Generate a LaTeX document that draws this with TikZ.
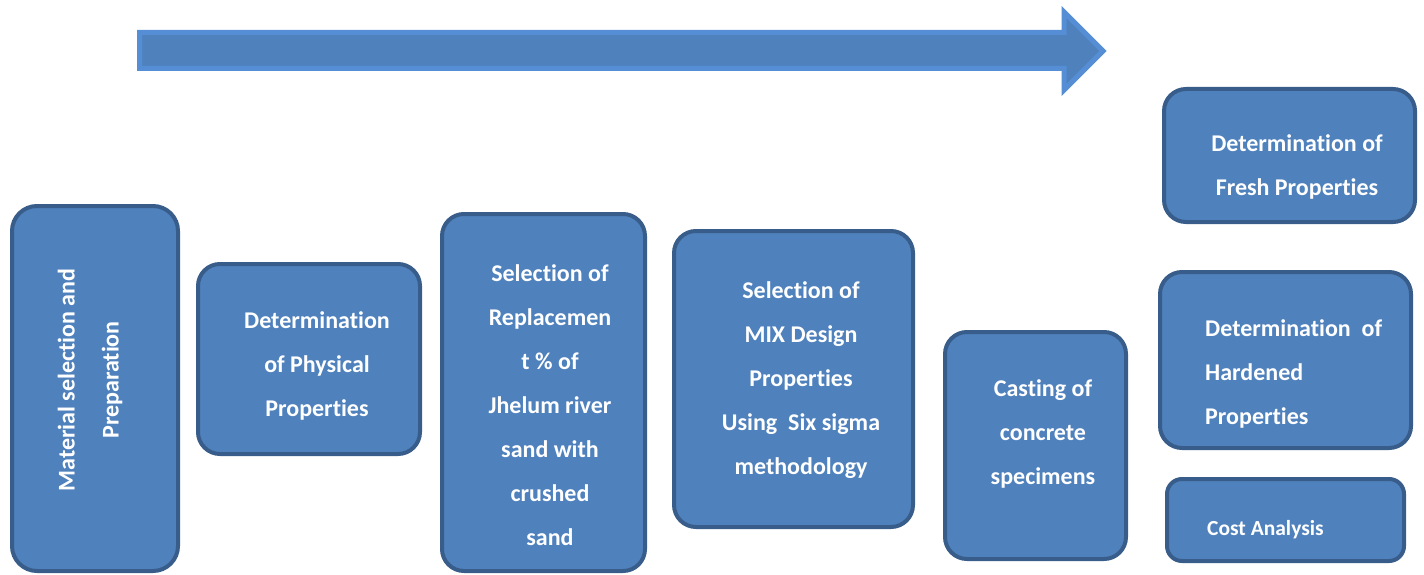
\documentclass[tikz,border=0pt]{standalone}
\usepackage{fontspec}
\setmainfont{Carlito}[Ligatures=NoCommon]
\usepackage{tikz}
\usetikzlibrary{positioning}
\definecolor{boxfill}{RGB}{79,129,189}
\definecolor{boxline}{RGB}{56,93,138}
\definecolor{arrline}{RGB}{85,142,213}

\begin{document}
\begin{tikzpicture}[
  x=1pt, y=-1pt,
  stepbox/.style={draw=boxline, fill=boxfill, line width=4pt, rounded corners=22pt, inner sep=0},
  txt/.style={text=white, font=\fontsize{24}{44}\selectfont\bfseries, align=center, inner sep=0},
  process/.style={draw=arrline, fill=boxfill, line width=5pt, line join=miter}
]
  \useasboundingbox (0,0) rectangle (1424,575);

  % Process arrow
  \draw[process] (139.5,32.5) -- (1064,32.5) -- (1064,12) -- (1103,51)
    -- (1064,90) -- (1064,68.5) -- (139.5,68.5) -- cycle;

  % Material selection
  \node[stepbox, minimum width=166pt, minimum height=365pt, rounded corners=25pt] (mat) at (95,388.5) {};
  \node[txt, rotate=90] (matt) at (90,380) {Material selection and\\Preparation};

  % Physical properties
  \node[stepbox, minimum width=222pt, minimum height=190pt] (phys) at (309,359) {};
  \node[txt] (physt) at (317,366) {Determination\\of Physical\\Properties};

  % Replacement
  \node[stepbox, minimum width=203pt, minimum height=357pt] (repl) at (543.5,392.5) {};
  \node[txt] (replt) at (550,405) {Selection of\\Replacemen\\t \% of\\Jhelum river\\sand with\\crushed\\sand};

  % Mix design
  \node[stepbox, minimum width=239pt, minimum height=296pt] (mix) at (793.5,379) {};
  \node[txt] (mixt) at (801,380) {Selection of\\MIX Design\\Properties\\Using~ Six sigma\\methodology};

  % Casting
  \node[stepbox, minimum width=181pt, minimum height=227pt] (cast) at (1035.5,445.5) {};
  \node[txt] (castt) at (1043,434) {Casting of\\concrete\\specimens};

  % Fresh properties
  \node[stepbox, minimum width=251pt, minimum height=133pt] (fresh) at (1289.5,155.5) {};
  \node[txt] (fresht) at (1297,166.5) {Determination of\\Fresh Properties};

  % Hardened properties
  \node[stepbox, minimum width=251pt, minimum height=176pt] (hard) at (1285.5,360) {};
  \node[txt, align=left, anchor=west] (hardt) at (1205,374) {Determination~ of\\Hardened\\Properties};

  % Cost analysis
  \node[stepbox, minimum width=237pt, minimum height=82pt, rounded corners=15pt] (cost) at (1285.5,520) {};
  \node[txt, anchor=west, font=\fontsize{21.5}{26}\selectfont\bfseries] (costt) at (1207,530) {Cost Analysis};
\end{tikzpicture}
\end{document}
